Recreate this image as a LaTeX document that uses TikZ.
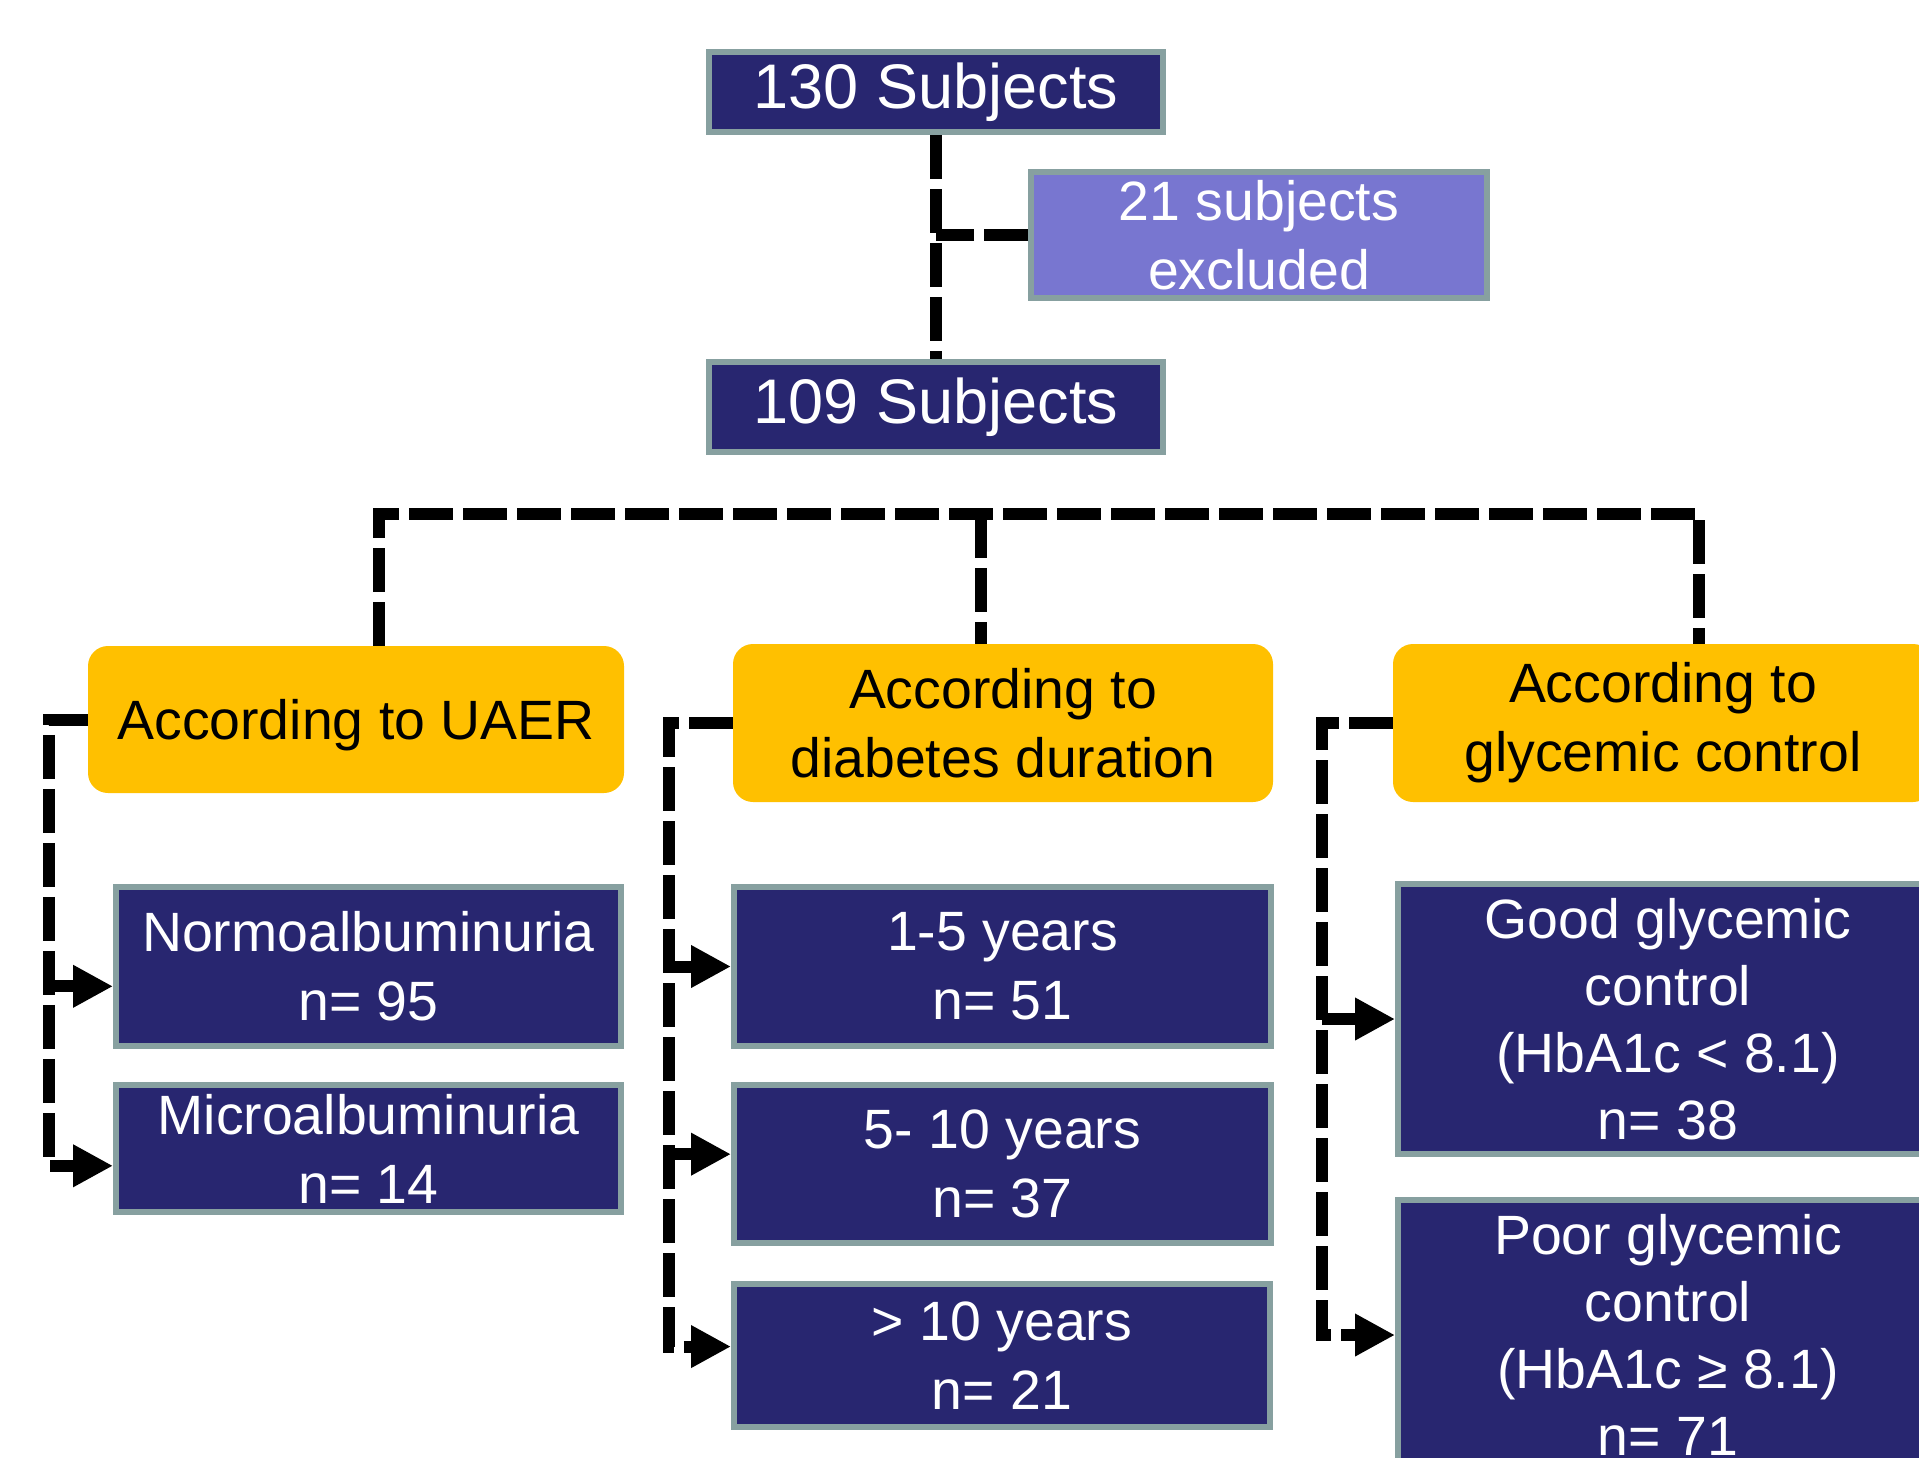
\documentclass[tikz,border=0pt]{standalone}
\usepackage{fontspec}
\setmainfont{Liberation Sans}
\usetikzlibrary{arrows.meta,calc}
\definecolor{navy}{RGB}{40,38,112}
\definecolor{rim}{RGB}{135,160,160}
\definecolor{lav}{RGB}{120,118,208}
\definecolor{gold}{RGB}{255,192,0}
\begin{document}
\begin{tikzpicture}[x=0.5pt,y=-0.5pt,
  bluebox/.style={draw=rim,line width=3pt,fill=navy,text=white,align=center,inner sep=0pt,
    font=\fontsize{27.7}{34.5}\selectfont},
  titlebox/.style={bluebox,font=\fontsize{31.5}{38}\selectfont},
  exclbox/.style={bluebox,fill=lav},
  goldbox/.style={fill=gold,rounded corners=10pt,text=black,align=center,inner sep=0pt,
    font=\fontsize{27.7}{34.5}\selectfont},
  conn/.style={line width=6pt,dash pattern=on 22pt off 5pt},
  arrowend/.style={-{Triangle[length=20pt,width=20pt]}}]
\useasboundingbox (0,0) rectangle (1919,1458);
\clip (0,0) rectangle (1919,1458);

% top
\node[titlebox,minimum width=227pt,minimum height=40pt] (s130) at (936,92) {130 Subjects};
\node[exclbox,minimum width=228pt,minimum height=63pt] (excl) at (1259,235) {21 subjects\\excluded};
\node[titlebox,minimum width=227pt,minimum height=45pt] (s109) at (936,407) {109 Subjects};

% category boxes
\node[goldbox,minimum width=268pt,minimum height=73.5pt,text depth=-6pt] (uaer) at (356,719.5) {According to UAER};
\node[goldbox,minimum width=270pt,minimum height=79pt] (dur) at (1003,723) {According to\\diabetes duration};
\node[goldbox,minimum width=270pt,minimum height=79pt] (glyc) at (1663,723) {According to\\glycemic control};

% result boxes
\node[bluebox,minimum width=252.5pt,minimum height=79.5pt] (normo) at (368.5,966.5) {Normoalbuminuria\\n= 95};
\node[bluebox,minimum width=252.5pt,minimum height=63.5pt] (micro) at (368.5,1148.5) {Microalbuminuria\\n= 14};
\node[bluebox,minimum width=268.5pt,minimum height=79.5pt] (ya) at (1002.5,966.5) {1-5 years\\n= 51};
\node[bluebox,minimum width=268.5pt,minimum height=79pt] (yb) at (1002.5,1164) {5- 10 years\\n= 37};
\node[bluebox,minimum width=268pt,minimum height=71.5pt] (yc) at (1002,1355.5) {> 10 years\\n= 21};
\node[bluebox,minimum width=270pt,minimum height=135pt,font=\fontsize{27.7}{33.5}\selectfont] (good) at (1668,1019) {Good glycemic\\control\\(HbA1c < 8.1)\\n= 38};
\node[bluebox,minimum width=270pt,minimum height=135pt,font=\fontsize{27.7}{33.5}\selectfont] (poor) at (1668,1335) {Poor glycemic\\control\\(HbA1c ≥ 8.1)\\n= 71};

% top connectors
\draw[conn] (s130.south) -- (s109.north);
\draw[conn] (excl.west) -- (excl.west -| s130.south);

% bus
\coordinate (bl) at (379,514);
\coordinate (br) at (1699,514);
\coordinate (bc) at (981,514);
\draw[conn] (uaer.north -| bl) -- (bl) -- (br) -- (glyc.north -| br);
\draw[conn] (bc) -- (dur.north -| bc);

% UAER branch
\coordinate (tu) at (49,0);
\coordinate (nt) at ($(normo.north west)!0.62!(normo.south west)$);
\coordinate (mt) at ($(micro.north west)!0.63!(micro.south west)$);
\draw[conn,arrowend] (uaer.west) -| (tu |- mt) -- (mt);
\draw[conn,arrowend] (tu |- nt) -- (nt);

% duration branch
\coordinate (td) at (669,0);
\coordinate (ybt) at ($(yb.north west)!0.44!(yb.south west)$);
\coordinate (yct) at ($(yc.north west)!0.44!(yc.south west)$);
\draw[conn,arrowend] (dur.west) -| (td |- yct) -- (yct);
\draw[conn,arrowend] (td |- ya.west) -- (ya.west);
\draw[conn,arrowend] (td |- ybt) -- (ybt);

% glycemic branch
\coordinate (tg) at (1322,0);
\draw[conn,arrowend] (glyc.west) -| (tg |- poor.west) -- (poor.west);
\draw[conn,arrowend] (tg |- good.west) -- (good.west);
\end{tikzpicture}
\end{document}
